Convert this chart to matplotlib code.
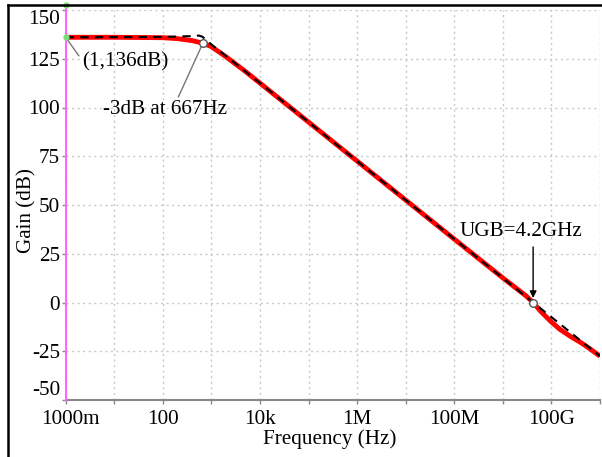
import matplotlib
matplotlib.use("Agg")
import matplotlib.pyplot as plt
import matplotlib.transforms as mtransforms
from matplotlib.lines import Line2D

plt.rcParams['font.family'] = ['Liberation Serif', 'DejaVu Serif']
plt.rcParams['axes.unicode_minus'] = False

# Data
red_f = [1, 10, 100, 200, 400, 667, 1000, 2000, 5000, 1e4, 1e5, 1e6, 1e7, 1e8,
         1e9, 2e9, 3e9, 4.2e9, 6e9, 1e10, 1.5e10, 2.5e10, 4e10, 6e10, 1e11]
red_db = [136, 136, 135.8, 135.3, 134.3, 133, 131.2, 126, 118.5, 112.5, 92.5, 72.5, 52.5, 32.5,
          12.6, 6.8, 3.4, 0, -4.5, -10, -13.8, -17.5, -20.5, -23.5, -27.5]
blk_f = [1, 100, 400, 550, 650, 800, 1000, 1e4, 1e6, 1e8, 1e10, 1e11]
blk_db = [136, 136.2, 136.6, 136.9, 136.3, 134.5, 132.3, 112.5, 72.5, 32.5, -7.5, -27.5]

xtick_vals = [1, 1e2, 1e4, 1e6, 1e8, 1e10]
xtick_labels = ["1000m", "100", "10k", "1M", "100M", "100G"]
ytick_vals = [-50, -25, 0, 25, 50, 75, 100, 125, 150]

f3db, g3db = 667, 133
ugb_f, ugb_g = 4.2e9, 0
dc_f, dc_g = 1, 136

FS = 15.2
W, H = 602, 457
fig = plt.figure(figsize=(W / 100, H / 100), dpi=100)
x0, x1 = 65.7, 600
y0, y1 = 10, 400
ax = fig.add_axes([x0 / W, 1 - y1 / H, (x1 - x0) / W, (y1 - y0) / H])

ax.set_xscale('log')
ax.set_xlim(1, 1e11)
ax.set_ylim(-50, 150)

# grid
for d in range(0, 12):
    ax.axvline(10.0 ** d, color='#c8c8c8', lw=1.0, ls=(0, (1.5, 2.5)), zorder=0)
for yv in ytick_vals:
    ax.axhline(yv, color='#c8c8c8', lw=1.0, ls=(0, (1.5, 2.5)), zorder=0)

# curves
ax.plot(red_f, red_db, color='#ff0000', lw=3.5, solid_capstyle='butt', zorder=3)
ax.plot(blk_f, blk_db, color='black', lw=1.5, ls=(0, (4, 3)), zorder=4)

# cursor line
ax.plot([1, 1], [-50, 152.6], color='#ff66ff', lw=1.5, clip_on=False, zorder=5)
ax.plot([1, 1], [dc_g, 152.6], 'o', color='#77dd77', ms=3.5, clip_on=False, zorder=6)

# markers
ax.plot([f3db, ugb_f], [g3db, ugb_g], 'o', mfc='white', mec='#555555', ms=5.5, mew=1.0, zorder=6)

# annotations
ax.annotate("(1,136dB)", xy=(dc_f, dc_g), xytext=(2.13, 123.5), fontsize=FS,
            va='center', ha='left',
            arrowprops=dict(arrowstyle='-', color='#777777', lw=1.0, shrinkA=0, shrinkB=0,
                            relpos=(0, 0.6)))
ax.annotate("-3dB at 667Hz", xy=(f3db, g3db), xytext=(5.78, 99.1), fontsize=FS,
            va='center', ha='left',
            arrowprops=dict(arrowstyle='-', color='#777777', lw=1.0, shrinkA=0, shrinkB=0,
                            relpos=(0.6, 1.0)))
ax.text(2.31e9, 36.3, "UGB=4.2GHz", fontsize=FS, va='center', ha='center')
ax.annotate("", xy=(ugb_f, 2.3), xytext=(ugb_f, 28.5),
            arrowprops=dict(arrowstyle='-|>', color='black', lw=1.0, shrinkA=0, shrinkB=0,
                            mutation_scale=10))

# ticks
ax.set_xticks(xtick_vals)
ax.set_xticklabels(xtick_labels)
ax.set_xticks([10.0 ** d for d in range(0, 12)], minor=True)
ax.xaxis.set_minor_formatter(matplotlib.ticker.NullFormatter())
ax.set_yticks(ytick_vals)
ax.set_yticklabels([str(v) for v in ytick_vals])
ax.tick_params(axis='both', which='both', labelsize=FS, color='#888888', length=3, width=1)
ax.tick_params(axis='x', pad=4)
ax.tick_params(axis='y', pad=1)

# shift end labels like the reference
ylabels = ax.get_yticklabels()
ylabels[-1].set_va('top')
ylabels[0].set_va('bottom')
xl0 = ax.get_xticklabels()[0]
xl0.set_transform(xl0.get_transform() + mtransforms.ScaledTranslation(5 / 100, 0, fig.dpi_scale_trans))

for s in ['top', 'right', 'left']:
    ax.spines[s].set_visible(False)
ax.spines['bottom'].set_color('#888888')
ax.spines['bottom'].set_linewidth(1.5)

ax.set_xlabel("Frequency (Hz)", fontsize=FS)
ax.xaxis.set_label_coords((330 - x0) / (x1 - x0), -(439 - y1) / (y1 - y0))
ax.xaxis.label.set_va('center')
ax.set_ylabel("Gain (dB)", fontsize=FS)
ax.yaxis.set_label_coords(-(x0 - 27) / (x1 - x0), (y1 - 211) / (y1 - y0))
ax.yaxis.label.set_va('center')

# figure border lines (left and top)
fig.add_artist(Line2D([8 / W, 8 / W], [0, 1 - 5 / H], color='black', lw=1.8, transform=fig.transFigure))
fig.add_artist(Line2D([8 / W, 1], [1 - 5 / H, 1 - 5 / H], color='black', lw=1.8, transform=fig.transFigure))

fig.savefig("out.png", dpi=100)
